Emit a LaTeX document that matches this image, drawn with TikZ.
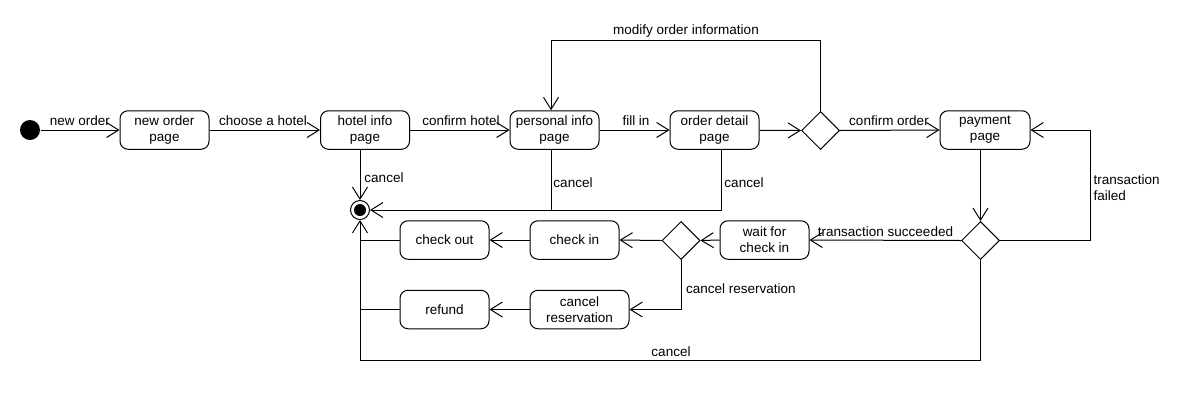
\documentclass[tikz,border=0pt]{standalone}
\usepackage{fontspec}
\setmainfont{Liberation Sans}
\usetikzlibrary{arrows.meta,shapes.geometric}
\tikzset{
  state/.style={draw,rounded corners=8pt,minimum height=38.5pt,inner sep=0pt,align=center,font=\fontsize{13.5}{16}\selectfont},
  dec/.style={draw,diamond,minimum width=38pt,minimum height=38pt,inner sep=0pt,aspect=1},
  arr/.style={-{Straight Barb[length=12pt,width=15pt]}},
  lbl/.style={font=\fontsize{13.5}{16}\selectfont,inner sep=0pt,align=left},
}
\begin{document}
\begin{tikzpicture}[x=1pt,y=-1pt,line width=1pt]
\useasboundingbox[fill=white] (0,0) rectangle (1200,400);
% nodes
\node[circle,fill=black,minimum size=20pt,inner sep=0pt] (init) at (30,130) {};
\node[state,minimum width=89pt] (neworder) at (164.5,130) {new order\\page};
\node[state,minimum width=89pt] (hotel) at (365,130) {hotel info\\page};
\node[state,minimum width=89pt] (personal) at (554.5,130) {personal info\\page};
\node[state,minimum width=89pt] (detail) at (714.5,130) {order detail\\page};
\node[dec] (d1) at (820.5,130.5) {};
\node[state,minimum width=90pt] (payment) at (985,130) {payment\\page};
\node[dec] (d2) at (980.5,240.5) {};
\node[state,minimum width=89pt] (wait) at (764.5,240) {wait for\\check in};
\node[dec] (d3) at (681,240.5) {};
\node[state,minimum width=89pt] (checkin) at (574.5,240) {check in};
\node[state,minimum width=89pt] (checkout) at (444.5,240) {check out};
\node[state,minimum width=99pt] (cancelres) at (579.5,309.5) {cancel\\reservation};
\node[state,minimum width=89pt] (refund) at (444.5,309.5) {refund};
\node[circle,draw,minimum size=19pt,inner sep=0pt] (endst) at (360,210) {};
\fill (endst.center) circle (6);
% connectors
\draw[arr] (init) -- (neworder.west);
\draw[arr] (neworder) -- (hotel);
\draw[arr] (hotel) -- (personal);
\draw[arr] (personal) -- (detail);
\draw[arr] (detail) -- (d1.west);
\draw[arr] (d1.east) -- (payment.west);
\draw[arr] (d1.north) -- (d1.north |- 0,40) -| ([xshift=-3.5pt]personal.north);
\draw[arr] (payment.south -| d2.north) -- (d2.north);
\draw[arr] (d2.east) -- (1090,240.5) |- (payment.east);
\draw[arr] (d2.west) -- (wait.east);
\draw[arr] (wait.west) -- (d3.east);
\draw[arr] (d3.west) -- (checkin.east);
\draw[arr] (checkin.west) -- (checkout.east);
\draw[arr] (d3.south) |- (cancelres.east);
\draw[arr] (cancelres.west) -- (refund.east);
\draw (checkout.west) -- (checkout.west -| endst.center);
\draw (refund.west) -- (refund.west -| endst.center);
\draw[arr] (d2.south) |- (360,360) -- (endst.south);
\draw[arr] (hotel.south -| endst.center) -- (endst.north);
\draw ([xshift=-3.5pt]personal.south) -- ([xshift=-3.5pt]personal.south |- endst.center);
\draw[arr] ([xshift=6.5pt]detail.south) |- (endst.east);
% labels
\node[lbl] at (80,121) {new order};
\node[lbl] at (263,121) {choose a hotel};
\node[lbl] at (461,121) {confirm hotel};
\node[lbl] at (636,121) {fill in};
\node[lbl] at (889,121) {confirm order};
\node[lbl] at (686,31) {modify order information};
\node[lbl] at (384,178) {cancel};
\node[lbl] at (573,183) {cancel};
\node[lbl] at (744,183) {cancel};
\node[lbl,anchor=west] at (1093,188) {transaction\\failed};
\node[lbl] at (885.5,232) {transaction succeeded};
\node[lbl] at (741,289) {cancel reservation};
\node[lbl] at (671,352) {cancel};
\end{tikzpicture}
\end{document}
